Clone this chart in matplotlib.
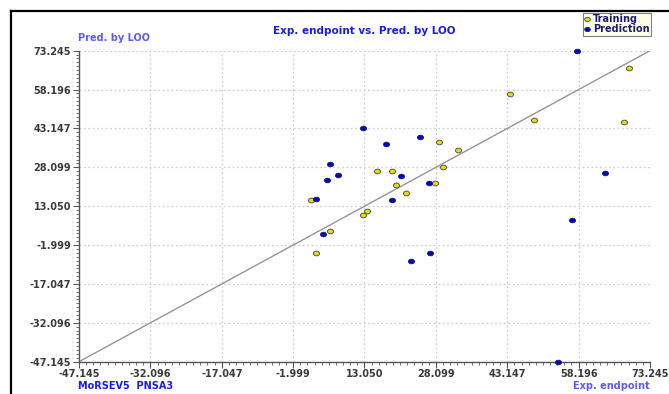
import numpy as np
import matplotlib
matplotlib.use("Agg")
import matplotlib.pyplot as plt
from matplotlib.lines import Line2D
from matplotlib.path import Path
from matplotlib.ticker import FixedLocator, AutoMinorLocator

# Experimental endpoint (x) vs. LOO-predicted value (y)
train_exp = [1.77, 2.76, 5.77, 12.67, 13.64, 15.62, 18.85, 19.75, 21.8, 28.76,
             27.85, 29.66, 32.7, 43.72, 48.85, 68.8, 67.76]
train_pred = [15.45, -5.2, 3.45, 9.5, 11.3, 26.7, 26.7, 21.1, 18.3, 38.0,
              22.0, 28.3, 34.7, 56.4, 46.4, 66.5, 45.8]

test_exp = [12.67, 24.75, 17.58, 5.77, 7.53, 20.8, 5.14, 26.7, 2.76, 18.85,
            4.3, 26.8, 22.85, 57.85, 63.82, 56.73, 53.8]
test_pred = [43.2, 39.95, 37.0, 29.4, 25.0, 24.6, 23.0, 22.0, 15.8, 15.3,
             2.3, -5.2, -8.3, 73.245, 26.0, 7.7, -47.145]

tick_values = [-47.145, -32.096, -17.047, -1.999, 13.050, 28.099, 43.147, 58.196, 73.245]
tick_labels = ["-47.145", "-32.096", "-17.047", "-1.999", "13.050", "28.099",
               "43.147", "58.196", "73.245"]

lo, hi = tick_values[0], tick_values[-1]

W, H = 669, 394
fig = plt.figure(figsize=(W / 100, H / 100), dpi=100)
fig.patch.set_facecolor("white")

ax = fig.add_axes([79 / W, 1 - 361.7 / H, (650 - 79) / W, (361.7 - 50.7) / H])
ax.set_xlim(lo, hi)
ax.set_ylim(lo, hi)

# slightly wide elliptical marker
theta = np.linspace(0, 2 * np.pi, 40)
ell = Path(np.column_stack([1.3 * np.cos(theta), np.sin(theta)]), closed=True)

# identity line
ax.plot([lo, hi], [lo, hi], color="#959595", lw=1.0, zorder=2)

ax.scatter(train_exp, train_pred, marker=ell, s=19, facecolor="#e6e000",
           edgecolor="#555555", linewidths=0.7, zorder=3, clip_on=False)
ax.scatter(test_exp, test_pred, marker=ell, s=19, facecolor="#0000d0",
           edgecolor="#1a1a5a", linewidths=0.6, zorder=3, clip_on=False)

for s in ["top", "right"]:
    ax.spines[s].set_visible(False)
for s in ["left", "bottom"]:
    ax.spines[s].set_color("#555555")
    ax.spines[s].set_linewidth(1.0)

ax.xaxis.set_major_locator(FixedLocator(tick_values))
ax.yaxis.set_major_locator(FixedLocator(tick_values))
ax.set_xticklabels(tick_labels)
ax.set_yticklabels(tick_labels)
ax.xaxis.set_minor_locator(AutoMinorLocator(10))
ax.yaxis.set_minor_locator(AutoMinorLocator(10))
ax.tick_params(which="major", length=4, width=0.8, color="#555555",
               labelsize=7, labelcolor="#3a3a3a", pad=1.5)
ax.tick_params(which="minor", length=2, width=0.6, color="#555555")
for lab in ax.get_xticklabels() + ax.get_yticklabels():
    lab.set_fontweight("bold")

ax.grid(True, which="major", color="#cfcfcf", linestyle=(0, (1.5, 2)), lw=0.9)
ax.set_axisbelow(True)

# texts
fig.text(364 / W, 1 - 31 / H, "Exp. endpoint vs. Pred. by LOO", ha="center",
         va="center", fontsize=7.5, fontweight="bold", color="#1a1aee")
fig.text(78 / W, 1 - 38 / H, "Pred. by LOO", ha="left", va="center",
         fontsize=7, fontweight="bold", color="#5a5aff")
fig.text(78 / W, 1 - 386 / H, "MoRSEV5  PNSA3", ha="left", va="center",
         fontsize=7, fontweight="bold", color="#1a1aee")
fig.text(650 / W, 1 - 386 / H, "Exp. endpoint", ha="right", va="center",
         fontsize=7, fontweight="bold", color="#5a5aff")

handles = [
    Line2D([], [], marker=ell, ls="none", markersize=4, markerfacecolor="#e6e000",
           markeredgecolor="#555555", markeredgewidth=0.7, label="Training"),
    Line2D([], [], marker=ell, ls="none", markersize=4, markerfacecolor="#0000d0",
           markeredgecolor="#1a1a5a", markeredgewidth=0.6, label="Prediction"),
]
leg = fig.legend(handles=handles, loc="upper right",
                 bbox_to_anchor=(651 / W, 1 - 12.5 / H), borderaxespad=0,
                 fontsize=7, frameon=True, fancybox=False, borderpad=0.15,
                 labelspacing=0.05, handlelength=0.6, handletextpad=0.3,
                 facecolor="#ffffe8", edgecolor="#808080", framealpha=1)
leg.get_frame().set_linewidth(0.8)
for t in leg.get_texts():
    t.set_color("#1a1a7a")
    t.set_fontweight("bold")

# window border on top and left
fig.add_artist(Line2D([11 / W, 1], [1 - 11 / H, 1 - 11 / H], color="black",
                      lw=1.6, transform=fig.transFigure))
fig.add_artist(Line2D([11 / W, 11 / W], [0, 1 - 11 / H], color="black",
                      lw=1.6, transform=fig.transFigure))

fig.savefig("out.png", dpi=100)
